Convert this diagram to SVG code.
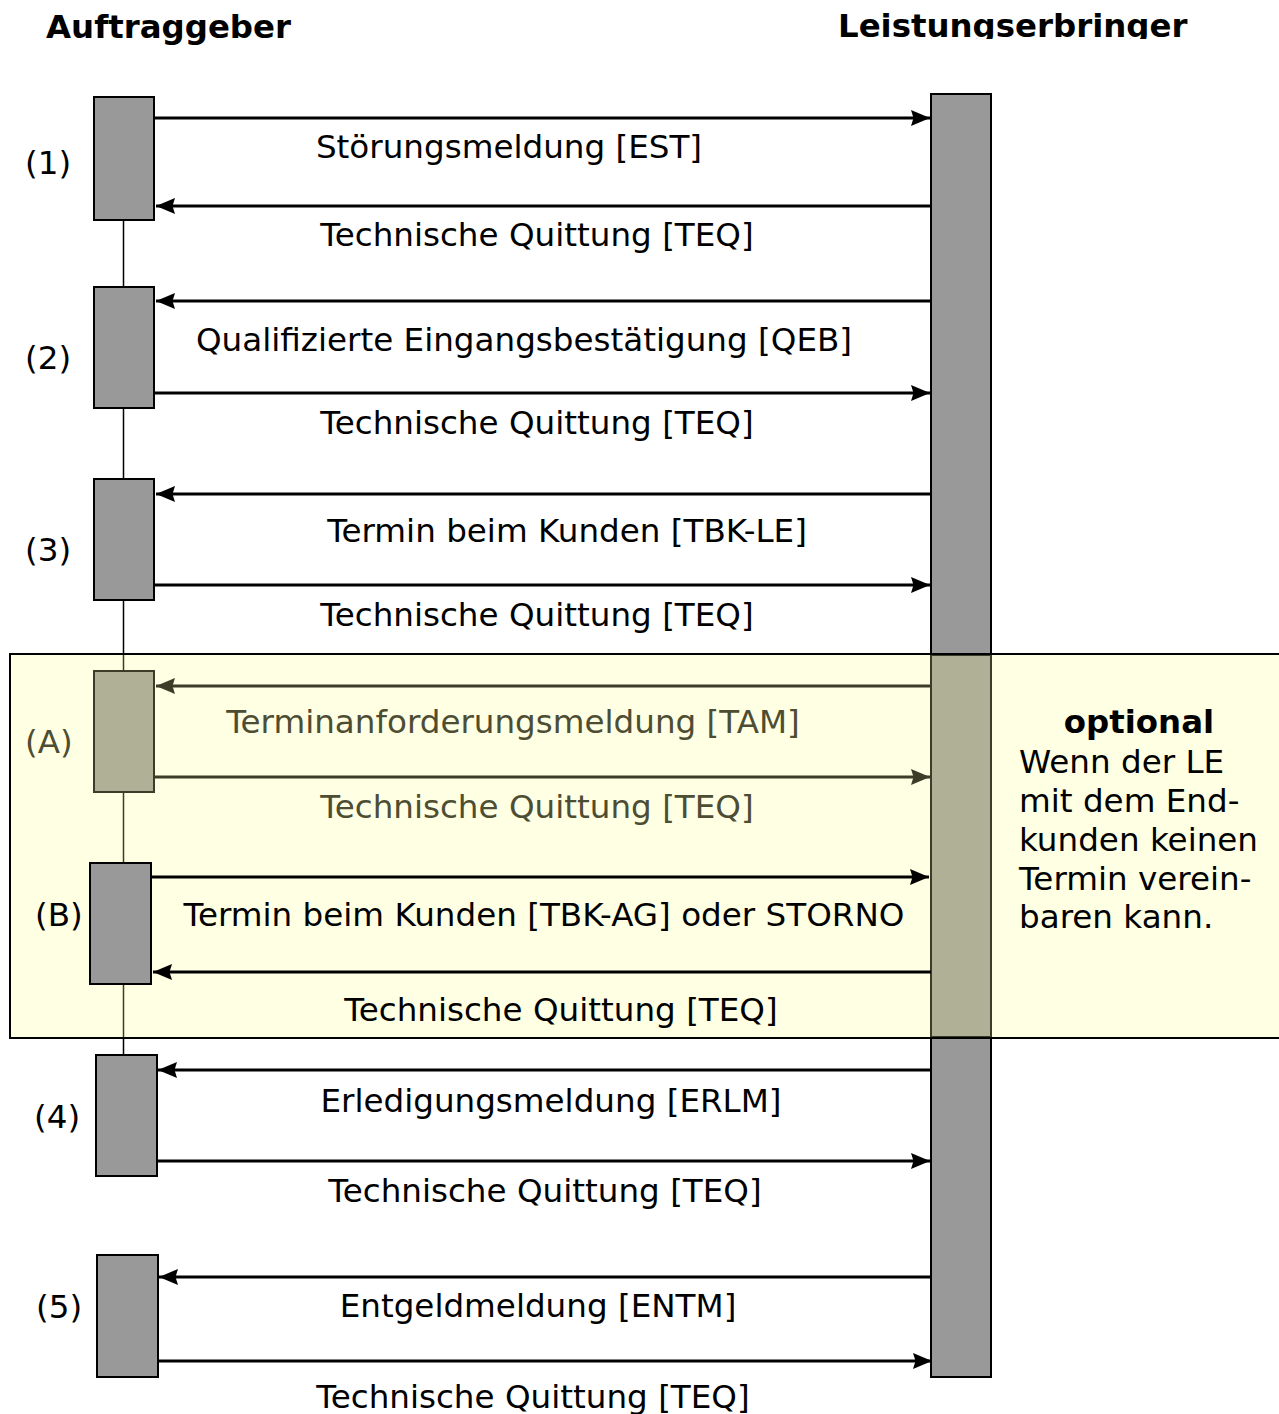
<svg xmlns="http://www.w3.org/2000/svg" width="1279" height="1414" viewBox="0 0 1279 1414">
<style>
text{font-family:"DejaVu Sans","Verdana","Liberation Sans",sans-serif;font-size:32.6px;fill:#000}
.title{font-weight:bold;font-size:32.4px}
.lbl{text-anchor:middle}
.ol{fill:#4d4d33}
.box{fill:#999;stroke:#000;stroke-width:2}
.boxo{fill:#b0b096;stroke:#3c3c28;stroke-width:2}
.life{stroke:#000;stroke-width:1.5;fill:none}
.lifeo{stroke:#3c3c28;stroke-width:1.5;fill:none}
.arr{stroke:#000;stroke-width:3;fill:none;marker-end:url(#ah)}
.arro{stroke:#3c3c28;stroke-width:3;fill:none;marker-end:url(#aho)}
</style>
<defs>
<marker id="ah" markerUnits="userSpaceOnUse" markerWidth="24" markerHeight="20" viewBox="-22 -10 24 20" refX="0" refY="0" orient="auto">
<path d="M0,0 L-19,-8 L-16.5,0 L-19,8 Z" fill="#000"/>
</marker>
<marker id="aho" markerUnits="userSpaceOnUse" markerWidth="24" markerHeight="20" viewBox="-22 -10 24 20" refX="0" refY="0" orient="auto">
<path d="M0,0 L-19,-8 L-16.5,0 L-19,8 Z" fill="#3c3c28"/>
</marker>
<clipPath id="clipTitle"><rect x="800" y="0" width="479" height="39"/></clipPath>
</defs>

<g id="titles">
<text class="title" x="46" y="38">Auftraggeber</text>
<text class="title" x="838" y="37" clip-path="url(#clipTitle)">Leistungserbringer</text>
</g>

<g id="optional-region">
<rect x="10" y="654" width="1290" height="384" fill="#ffffe3" stroke="none"/>
</g>

<g id="leistungserbringer-bar">
<rect class="box" x="931" y="94" width="60" height="1283"/>
<rect x="931" y="655" width="60" height="382" fill="#b0b096" stroke="#3c3c28" stroke-width="2"/>
</g>

<g id="lifeline">
<path class="life" d="M123.5,220 V287 M123.5,408 V479 M123.5,600 V654 M123.5,1038 V1055"/>
<path class="lifeo" d="M123.5,654 V671 M123.5,792 V863 M123.5,984 V1038"/>
</g>

<g id="optional-border">
<rect x="10" y="654" width="1290" height="384" fill="none" stroke="#000" stroke-width="2"/>
</g>

<g id="node-1"><rect class="box" x="94" y="97" width="60" height="123"/><text x="25" y="174">(1)</text></g>
<g id="node-2"><rect class="box" x="94" y="287" width="60" height="121"/><text x="25" y="369">(2)</text></g>
<g id="node-3"><rect class="box" x="94" y="479" width="60" height="121"/><text x="25" y="561">(3)</text></g>
<g id="node-A"><rect class="boxo" x="94" y="671" width="60" height="121"/><text class="ol" x="25" y="753">(A)</text></g>
<g id="node-B"><rect class="box" x="90" y="863" width="61" height="121"/><text x="35" y="926">(B)</text></g>
<g id="node-4"><rect class="box" x="96" y="1055" width="61" height="121"/><text x="34" y="1128">(4)</text></g>
<g id="node-5"><rect class="box" x="97" y="1255" width="61" height="122"/><text x="36" y="1318">(5)</text></g>

<g id="optional-note">
<text class="title lbl" x="1139" y="733">optional</text>
<text x="1019" y="773">Wenn der LE</text>
<text x="1019" y="812">mit dem End-</text>
<text x="1019" y="851">kunden keinen</text>
<text x="1019" y="890">Termin verein-</text>
<text x="1019" y="928">baren kann.</text>
</g>

<g id="connectors">
<path class="arr" d="M154,118 H930"/>
<path class="arr" d="M931,206 H156"/>
<path class="arr" d="M931,301 H156"/>
<path class="arr" d="M154,393 H930"/>
<path class="arr" d="M931,494 H156"/>
<path class="arr" d="M154,585 H930"/>
<path class="arro" d="M931,686 H156"/>
<path class="arro" d="M154,777 H930"/>
<path class="arr" d="M151,877 H929"/>
<path class="arr" d="M931,972 H153"/>
<path class="arr" d="M931,1070 H158"/>
<path class="arr" d="M157,1161 H930"/>
<path class="arr" d="M931,1277 H159"/>
<path class="arr" d="M158,1361 H932"/>
</g>

<g id="connector-labels">
<text class="lbl" x="509" y="158">Störungsmeldung [EST]</text>
<text class="lbl" x="537" y="246">Technische Quittung [TEQ]</text>
<text class="lbl" x="524" y="351">Qualifizierte Eingangsbestätigung [QEB]</text>
<text class="lbl" x="537" y="434">Technische Quittung [TEQ]</text>
<text class="lbl" x="567" y="542">Termin beim Kunden [TBK-LE]</text>
<text class="lbl" x="537" y="626">Technische Quittung [TEQ]</text>
<text class="lbl ol" x="513" y="733">Terminanforderungsmeldung [TAM]</text>
<text class="lbl ol" x="537" y="818">Technische Quittung [TEQ]</text>
<text class="lbl" x="544" y="926">Termin beim Kunden [TBK-AG] oder STORNO</text>
<text class="lbl" x="561" y="1021">Technische Quittung [TEQ]</text>
<text class="lbl" x="551" y="1112">Erledigungsmeldung [ERLM]</text>
<text class="lbl" x="545" y="1202">Technische Quittung [TEQ]</text>
<text class="lbl" x="538" y="1317">Entgeldmeldung [ENTM]</text>
<text class="lbl" x="533" y="1408">Technische Quittung [TEQ]</text>
</g>
</svg>
